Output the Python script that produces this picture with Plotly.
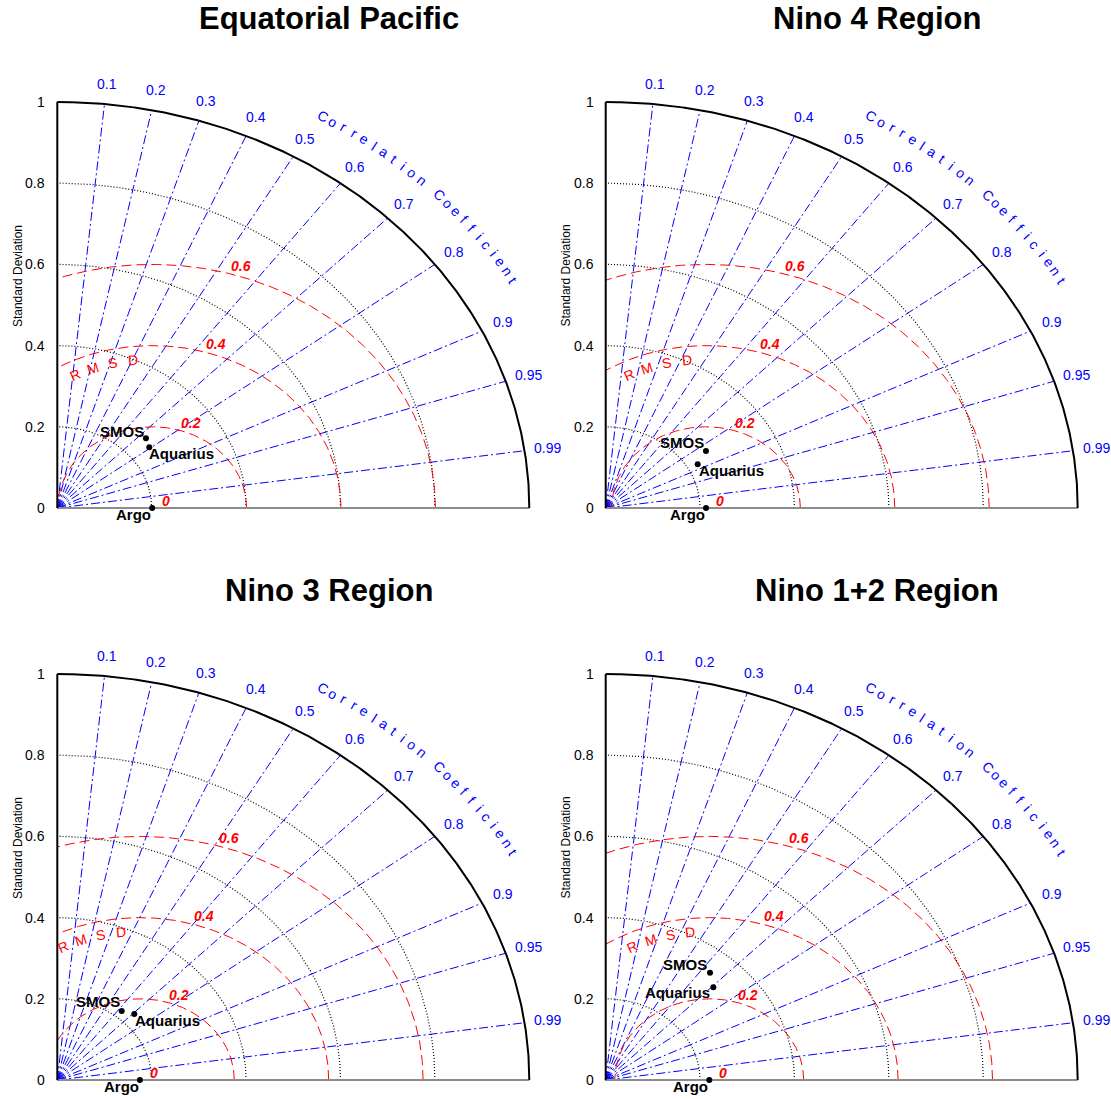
import numpy as np
import plotly.graph_objects as go

# ---------------- data ----------------
titles = ["Equatorial Pacific", "Nino 4 Region", "Nino 3 Region", "Nino 1+2 Region"]
argo_std = [0.201, 0.2125, 0.175, 0.2195]
smos_std = [0.2545, 0.2547, 0.218, 0.3445]
smos_corr = [0.738, 0.834, 0.626, 0.6415]
aqua_std = [0.2456, 0.2226, 0.2303, 0.3227]
aqua_corr = [0.7935, 0.8755, 0.708, 0.7066]
point_names = ["SMOS", "Aquarius", "Argo"]

corr_ticks = [0.1, 0.2, 0.3, 0.4, 0.5, 0.6, 0.7, 0.8, 0.9, 0.95, 0.99]
corr_tick_labels = ["0.1", "0.2", "0.3", "0.4", "0.5", "0.6", "0.7", "0.8", "0.9", "0.95", "0.99"]
std_ticks = [0, 0.2, 0.4, 0.6, 0.8, 1]
std_tick_labels = ["0", "0.2", "0.4", "0.6", "0.8", "1"]
std_grid = [0.2, 0.4, 0.6, 0.8]
rmsd_levels = [0, 0.2, 0.4, 0.6]
rmsd_labels = ["0", "0.2", "0.4", "0.6"]
corr_title = "Correlation Coefficient"
rmsd_title = "RMSD"
std_title = "Standard Deviation"

# ---------------- geometry (pixels) ----------------
W, H = 1111, 1099
A, B = 472.0, 406.0  # px per unit (x, y)
origins = [(57.3, 508.0), (605.7, 508.0), (57.3, 1080.0), (605.7, 1080.0)]
xdoms = [[0, 0.5], [0.5, 1], [0, 0.5], [0.5, 1]]
ydoms = [[0.5, 1], [0.5, 1], [0, 0.5], [0, 0.5]]

# label placement (pixel shifts) per panel: (anchor, xshift, yshift)
smos_pos = [("right", 0, 7), ("right", 0, 8), ("right", 0, 9), ("right", -1, 8)]
aqua_pos = [("left", -2, -6), ("left", -1, -6), ("left", -1, -7), ("right", -1, -5)]
argo_pos = [("right", 1, -6), ("right", 1, -6), ("right", 1, -6), ("right", 1, -6)]

FONT = "Liberation Sans, Arial, Helvetica, sans-serif"
fig = go.Figure()
annotations = []

t = np.linspace(0, np.pi / 2, 300)

for p in range(4):
    ox, oy = origins[p]
    xd, yd = xdoms[p], ydoms[p]
    px0, px1 = xd[0] * W, xd[1] * W
    py_top, py_bot = (1 - yd[1]) * H, (1 - yd[0]) * H
    xr = [(px0 - ox) / A, (px1 - ox) / A]
    yr = [(oy - py_bot) / B, (oy - py_top) / B]
    sfx = "" if p == 0 else str(p + 1)
    xa, ya = "x" + sfx, "y" + sfx
    fig.update_layout(**{
        "xaxis" + sfx: dict(domain=xd, range=xr, visible=False, fixedrange=True, anchor=ya),
        "yaxis" + sfx: dict(domain=yd, range=yr, visible=False, fixedrange=True, anchor=xa),
    })

    def line(x, y, color, width, dash="solid"):
        fig.add_trace(go.Scatter(x=x, y=y, mode="lines", xaxis=xa, yaxis=ya,
                                 line=dict(color=color, width=width, dash=dash),
                                 hoverinfo="skip", showlegend=False))

    # correlation rays
    for c in corr_ticks:
        th = np.arccos(c)
        line([0, np.cos(th)], [0, np.sin(th)], "blue", 1, "9px,3px,2px,3px")
    # std dotted arcs
    for s in std_grid:
        line(s * np.cos(t), s * np.sin(t), "black", 1.2, "1px,2px")
    # RMSD circles
    sref = argo_std[p]
    for v in rmsd_levels:
        if v <= 0:
            continue
        phimax = np.arccos(max(-1.0, -sref / v))
        ph = np.linspace(0, phimax, 300)
        line(sref + v * np.cos(ph), v * np.sin(ph), "red", 1, "10px,5px")
    # axes
    line([0, 1], [0, 0], "#8c8c8c", 2)
    line([0, 0], [0, 1], "black", 2)
    line(np.cos(t), np.sin(t), "black", 2)

    # points
    xs = [smos_std[p] * smos_corr[p], aqua_std[p] * aqua_corr[p], sref]
    ys = [smos_std[p] * np.sqrt(1 - smos_corr[p] ** 2),
          aqua_std[p] * np.sqrt(1 - aqua_corr[p] ** 2), 0]
    fig.add_trace(go.Scatter(x=xs, y=ys, mode="markers", xaxis=xa, yaxis=ya,
                             marker=dict(color="black", size=6), cliponaxis=False,
                             hoverinfo="skip", showlegend=False))
    for name, xx, yy, pos in zip(point_names, xs, ys, [smos_pos[p], aqua_pos[p], argo_pos[p]]):
        annotations.append(dict(x=xx, y=yy, xref=xa, yref=ya, text="<b>" + name + "</b>",
                                showarrow=False, xanchor=pos[0], yanchor="middle",
                                xshift=pos[1], yshift=pos[2],
                                font=dict(size=15, color="black", family=FONT)))

    # title
    annotations.append(dict(x=(329 - 57.3) / A, y=(508 - 18) / B, xref=xa, yref=ya,
                            text="<b>" + titles[p] + "</b>", showarrow=False,
                            xanchor="center", yanchor="middle",
                            font=dict(size=31, color="black", family=FONT)))
    # std tick labels
    for s, lab in zip(std_ticks, std_tick_labels):
        annotations.append(dict(x=0, y=s, xref=xa, yref=ya, text=lab, showarrow=False,
                                xanchor="right", yanchor="middle", xshift=-10,
                                font=dict(size=14, color="black", family=FONT)))
    annotations.append(dict(x=-40 / A, y=0.572, xref=xa, yref=ya, text=std_title,
                            showarrow=False, textangle=-90, xanchor="center", yanchor="middle",
                            font=dict(size=12, color="black", family=FONT)))
    # correlation tick labels
    for c, lab in zip(corr_ticks, corr_tick_labels):
        th = np.arccos(c)
        annotations.append(dict(x=1.05 * np.cos(th), y=1.05 * np.sin(th), xref=xa, yref=ya,
                                text=lab, showarrow=False, xanchor="center", yanchor="middle",
                                font=dict(size=14, color="blue", family=FONT)))
    # curved "Correlation Coefficient"
    for i, ch in enumerate(corr_title):
        if ch == " ":
            continue
        th = np.radians(59.8 - 1.35 * i)
        ang = np.degrees(np.arctan2(B * np.cos(th), A * np.sin(th)))
        annotations.append(dict(x=1.117 * np.cos(th), y=1.117 * np.sin(th), xref=xa, yref=ya,
                                text=ch, showarrow=False, textangle=ang,
                                xanchor="center", yanchor="middle",
                                font=dict(size=14, color="blue", family=FONT)))
    # RMSD labels
    for v, lab in zip(rmsd_levels, rmsd_labels):
        dx = 0.03 + 0.265 * v
        dy = 0.017 + 0.965 * v
        annotations.append(dict(x=sref + dx, y=dy, xref=xa, yref=ya,
                                text="<b><i>" + lab + "</i></b>", showarrow=False,
                                xanchor="center", yanchor="middle",
                                font=dict(size=14, color="red", family=FONT)))
    # curved "RMSD"
    for i, ch in enumerate(rmsd_title):
        ph = np.radians(116.5 - 6.7 * i)
        ang = np.degrees(np.arctan2(B * np.cos(ph), A * np.sin(ph)))
        annotations.append(dict(x=sref + 0.367 * np.cos(ph), y=0.367 * np.sin(ph),
                                xref=xa, yref=ya, text=ch, showarrow=False, textangle=ang,
                                xanchor="center", yanchor="middle",
                                font=dict(size=14, color="red", family=FONT)))

fig.update_layout(width=W, height=H, margin=dict(l=0, r=0, t=0, b=0),
                  paper_bgcolor="white", plot_bgcolor="white",
                  font=dict(family=FONT), annotations=annotations, showlegend=False)
fig.write_html("out.html")
